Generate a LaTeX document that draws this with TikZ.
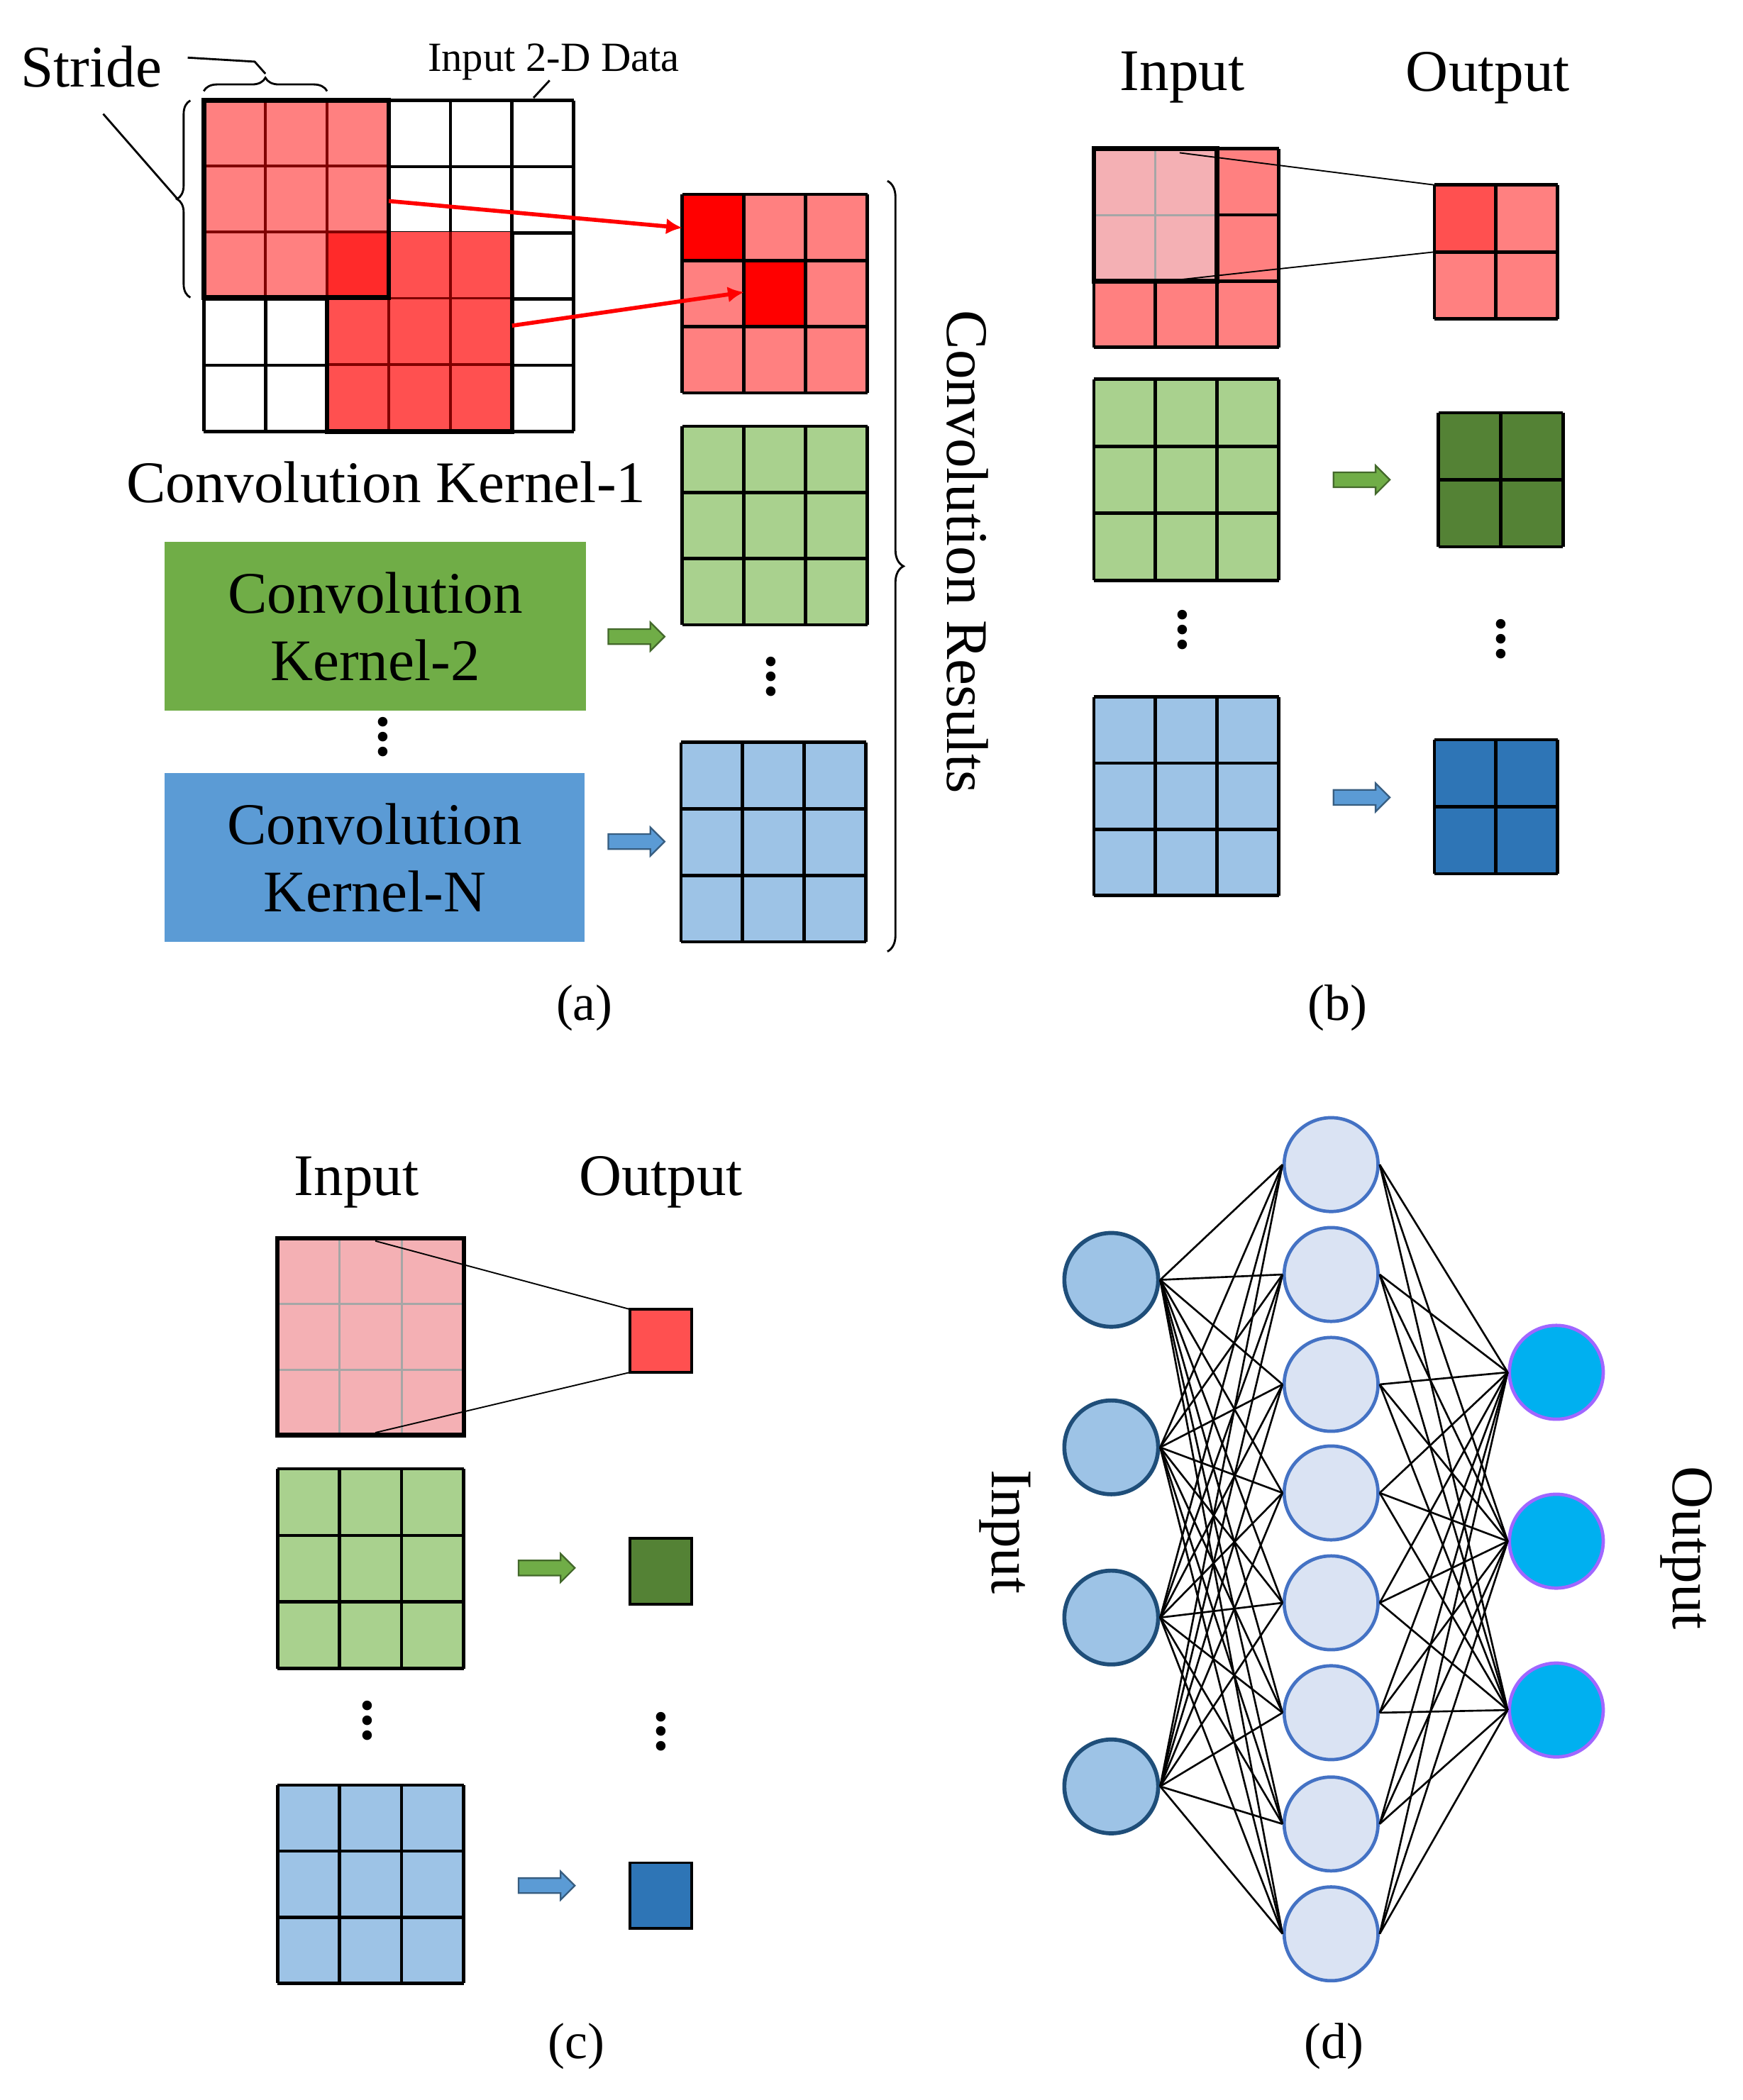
\documentclass[tikz,border=0pt]{standalone}
\usepackage{fontspec}
\setmainfont{Liberation Serif}
\usetikzlibrary{shapes.arrows,decorations.pathreplacing,arrows.meta}
\definecolor{kp}{HTML}{FF8080}
\definecolor{kr}{HTML}{FF5050}
\definecolor{kd}{HTML}{FF2A2A}
\definecolor{lp}{HTML}{F4B0B4}
\definecolor{gl}{HTML}{A9D18E}
\definecolor{gd}{HTML}{548235}
\definecolor{gb}{HTML}{70AD47}
\definecolor{bl}{HTML}{9DC3E6}
\definecolor{bd}{HTML}{2E75B6}
\definecolor{bb}{HTML}{5B9BD5}
\definecolor{hid}{HTML}{DAE3F3}
\definecolor{hidb}{HTML}{4472C4}
\definecolor{inb}{HTML}{1F4E79}
\definecolor{outf}{HTML}{00B0F0}
\definecolor{outb}{HTML}{A066FF}
\newcommand\mygrid[8]{% x y nx ny w h fill linestyle
  \path[fill=#7] (#1,#2) rectangle ++({#3*#5},{#4*#6});
  \foreach \ii in {0,...,#3} \draw[#8] ({#1+\ii*#5},#2) -- ++(0,{#4*#6});
  \foreach \jj in {0,...,#4} \draw[#8] (#1,{#2+\jj*#6}) -- ++({#3*#5},0);}
\tikzset{
  gline/.style={line width=2.5pt,black},
  glinegray/.style={line width=1.5pt,gray!70},
  lbl/.style={font=\fontsize{44}{48}\selectfont},
  sub/.style={font=\fontsize{38}{42}\selectfont},
  barrow/.style={single arrow,draw=#1!60!black,fill=#1,line width=1.2pt,minimum height=42pt,inner sep=5pt,single arrow head extend=5pt},
  conn/.style={line width=1.4pt,black},
  dots/.style={font=\fontsize{44}{44}\selectfont\bfseries},
}
\begin{document}
\begin{tikzpicture}[x=1pt,y=-1pt]
\useasboundingbox (0,0) rectangle (1300,1567);
% ---------- (a)
\mygrid{152}{75}{6}{5}{46}{49.4}{white}{gline}
\fill[kp] (152,75) rectangle (290,222);
\fill[kr] (244,173) rectangle (382,322);
\fill[kd] (244,173) rectangle (290,222);
\foreach \ii in {1,2} \draw[line width=2pt,red!50!black] ({152+\ii*46},75) -- ++(0,147);
\foreach \jj in {1,2} \draw[line width=2pt,red!50!black] (152,{75+\jj*49}) -- ++(138,0);
\foreach \ii in {1,2} \draw[line width=2pt,red!50!black] ({244+\ii*46},173) -- ++(0,149);
\foreach \jj in {1,2} \draw[line width=2pt,red!50!black] (244,{173+\jj*49.5}) -- ++(138,0);
\draw[line width=3.5pt] (244,222) -- (244,322) -- (382,322) -- (382,173);
\draw[line width=3.5pt] (152,75) rectangle (290,222);
\mygrid{509}{145}{3}{3}{46}{49.4}{kp}{gline}
\fill[red] (509,145) rectangle (555,194.4);
\fill[red] (555,194.4) rectangle (601,243.8);
\mygrid{509}{145}{3}{3}{46}{49.4}{none}{gline}
\coordinate (a1s) at (290,150); \coordinate (a1e) at (509,170);
\coordinate (a2s) at (382,243); \coordinate (a2e) at (555,218);
\draw[red,line width=3pt,-{Latex[length=12pt,width=12pt]}] (a1s) -- (a1e);
\draw[red,line width=3pt,-{Latex[length=12pt,width=12pt]}] (a2s) -- (a2e);
\mygrid{509}{318}{3}{3}{46}{49.4}{gl}{gline}
\mygrid{508}{554}{3}{3}{46}{49.6}{bl}{gline}
\node[dots] (da1) at (575,505) {\rotatebox{90}{...}};
\draw[line width=1.5pt,decorate,decoration={brace,amplitude=12pt}] (662,135) -- (662,710);
\node[lbl,rotate=-90] (cr) at (722,412) {Convolution Results};
\node[lbl,anchor=west] (stride) at (12,50) {Stride};
\draw[line width=1.5pt,decorate,decoration={brace,amplitude=10pt}] (152,68) -- (244,68);
\draw[line width=1.5pt] (140,43) -- (190,46) -- (198,55);
\draw[line width=1.5pt,decorate,decoration={brace,amplitude=10pt}] (142,222) -- (142,75);
\draw[line width=1.5pt] (77,85) -- (132,148);
\node[font=\fontsize{31}{34}\selectfont] (in2d) at (413,46) {Input 2-D Data};
\draw[line width=1.5pt] (398,73) -- (410,60);
\node[lbl] (k1) at (288,360) {Convolution Kernel-1};
\node[lbl,fill=gb,minimum width=314pt,minimum height=126pt,align=center] (k2) at (280,467.5) {Convolution\\[2pt]Kernel-2};
\node[lbl,fill=bb,minimum width=313pt,minimum height=126pt,align=center] (kn) at (279.5,640) {Convolution\\[2pt]Kernel-N};
\node[dots] (dk) at (286,550) {\rotatebox{90}{...}};
\node[barrow=gb] (ar1) at (472,475) {};
\node[barrow=bb] (ar2) at (472,628) {};
\node[sub] (la) at (436,752) {(a)};
% ---------- (b)
\node[lbl] (bi) at (882,58) {Input};
\node[lbl] (bo) at (1110,58) {Output};
\mygrid{816}{111}{3}{3}{46}{49.4}{kp}{gline}
\fill[lp] (816,111) rectangle (908,209.8);
\draw[glinegray] (862,111) -- (862,209.8) (816,160.4) -- (908,160.4);
\draw[line width=3.5pt] (816,111) rectangle (908,209.8);
\mygrid{1070}{138}{2}{2}{46}{50}{kp}{gline}
\fill[kr] (1070,138) rectangle (1116,188);
\mygrid{1070}{138}{2}{2}{46}{50}{none}{gline}
\coordinate (b1) at (880,114); \coordinate (b2) at (870,209.8);
\draw[conn,line width=1pt] (b1) -- (1070,138);
\draw[conn,line width=1pt] (b2) -- (1070,188);
\mygrid{816}{283}{3}{3}{46}{50}{gl}{gline}
\mygrid{1073}{308}{2}{2}{46.5}{50}{gd}{gline}
\node[barrow=gb] (ar3) at (1013,358) {};
\node[dots] (db1) at (882,470) {\rotatebox{90}{...}};
\node[dots] (db2) at (1120,477) {\rotatebox{90}{...}};
\mygrid{816}{520}{3}{3}{46}{49.4}{bl}{gline}
\mygrid{1070}{552}{2}{2}{46}{50}{bd}{gline}
\node[barrow=bb] (ar4) at (1013,595) {};
\node[sub] (lb) at (998,752) {(b)};
% ---------- (c)
\node[lbl] (ci) at (266,882) {Input};
\node[lbl] (co) at (493,882) {Output};
\mygrid{207}{924}{3}{3}{46.3}{49}{lp}{glinegray}
\draw[line width=3.5pt] (207,924) rectangle (346,1071);
\draw[line width=2pt,fill=kr] (470,977) rectangle (516,1024);
\coordinate (c1) at (280,926); \coordinate (c2) at (280,1069);
\draw[conn,line width=1pt] (c1) -- (470,977);
\draw[conn,line width=1pt] (c2) -- (470,1024);
\mygrid{207}{1096}{3}{3}{46.3}{49.7}{gl}{gline}
\draw[line width=2pt,fill=gd] (470,1148) rectangle (516,1197);
\node[barrow=gb] (ar5) at (405,1170) {};
\node[dots] (dc1) at (274,1284) {\rotatebox{90}{...}};
\node[dots] (dc2) at (493,1292) {\rotatebox{90}{...}};
\mygrid{207}{1332}{3}{3}{46.3}{49.3}{bl}{gline}
\draw[line width=2pt,fill=bd] (470,1390) rectangle (516,1439);
\node[barrow=bb] (ar6) at (405,1407) {};
\node[sub] (lc) at (430,1527) {(c)};
% ---------- (d)
\foreach \n/\y in {1/955,2/1080,3/1207,4/1333}
  \node[circle,minimum size=70pt,fill=bl,draw=inb,line width=3pt,inner sep=0pt] (i\n) at (829,\y) {};
\foreach \n/\y in {1/869,2/951,3/1033,4/1114,5/1196,6/1278,7/1361,8/1443}
  \node[circle,minimum size=70pt,fill=hid,draw=hidb,line width=2.5pt,inner sep=0pt] (h\n) at (993,\y) {};
\foreach \n/\y in {1/1024,2/1150,3/1276}
  \node[circle,minimum size=70pt,fill=outf,draw=outb,line width=2.5pt,inner sep=0pt] (o\n) at (1161,\y) {};
\foreach \a in {1,...,4} \foreach \b in {1,...,8} \draw[conn] (i\a.east) -- (h\b.west);
\foreach \b in {1,...,8} \foreach \c in {1,...,3} \draw[conn] (h\b.east) -- (o\c.west);
\node[lbl,rotate=-90] (di) at (750,1143) {Input};
\node[lbl,rotate=-90] (do) at (1258,1155) {Output};
\node[sub] (ld) at (995,1527) {(d)};
\end{tikzpicture}
\end{document}
